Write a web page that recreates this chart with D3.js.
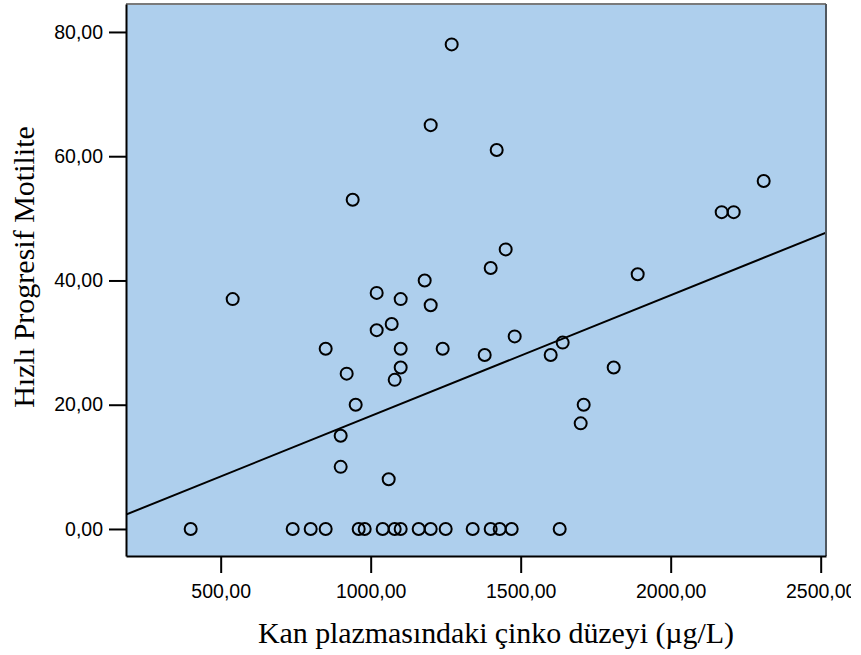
<!DOCTYPE html>
<html>
<head>
<meta charset="utf-8">
<script src="https://cdn.jsdelivr.net/npm/d3@7"></script>
<style>
  body { margin: 0; background: #fff; }
  svg { display: block; }
  .tick text { font-family: "Liberation Sans", Arial, sans-serif; font-size: 19.5px; fill: #000; }
  .title { font-family: "Liberation Serif", "Times New Roman", serif; font-size: 30px; fill: #000; }
</style>
</head>
<body>
<svg id="chart" width="861" height="655"></svg>
<script>
// ========= Data
const zinc = [400, 540, 740, 800, 850, 850, 900, 900, 920, 940, 950, 960, 980, 1020, 1020, 1040, 1060,
  1070, 1080, 1080, 1100, 1100, 1100, 1100, 1160, 1180, 1200, 1200, 1200, 1240, 1250, 1270, 1340, 1380,
  1400, 1400, 1420, 1430, 1450, 1470, 1480, 1600, 1630, 1640, 1700, 1710, 1810, 1890, 2170, 2210, 2310];
const motility = [0, 37, 0, 0, 0, 29, 15, 10, 25, 53, 20, 0, 0, 38, 32, 0, 8,
  33, 24, 0, 0, 37, 29, 26, 0, 40, 0, 65, 36, 29, 0, 78, 0, 28,
  0, 42, 61, 0, 45, 0, 31, 28, 0, 30, 17, 20, 26, 41, 51, 51, 56];

// fit line coefficients (y = a + b*x)
const fitIntercept = -1.27;
const fitSlope = 0.01945;

const xTicks = [500, 1000, 1500, 2000, 2500];
const yTicks = [0, 20, 40, 60, 80];

const xTitle = "Kan plazmasındaki çinko düzeyi (µg/L)";
const yTitle = "Hızlı Progresif Motilite";

// ========= Layout
const root = d3.select("#chart");
const m = { l: 126, r: 826, t: 4, b: 556 };

// the original picture is cut off on the right, at x = 851
root.append("clipPath").attr("id", "page")
  .append("rect").attr("x", 0).attr("y", 0).attr("width", 851).attr("height", 655);
const svg = root.append("g").attr("clip-path", "url(#page)");

const x = d3.scaleLinear().domain([184.4, 2517.7]).range([m.l, m.r]);
const y = d3.scaleLinear().domain([-4.35, 84.5]).range([m.b, m.t]);

const fmt = d3.formatLocale({ decimal: ",", thousands: "", grouping: [3], currency: ["", ""] }).format(".2f");

// plot background
svg.append("rect")
  .attr("x", m.l).attr("y", m.t)
  .attr("width", m.r - m.l).attr("height", m.b - m.t)
  .attr("fill", "#aecfed");

// regression line, clipped to plot
root.append("clipPath").attr("id", "clip")
  .append("rect")
  .attr("x", m.l).attr("y", m.t)
  .attr("width", m.r - m.l).attr("height", m.b - m.t);

const xd = x.domain();
svg.append("line")
  .attr("clip-path", "url(#clip)")
  .attr("x1", x(xd[0])).attr("y1", y(fitIntercept + fitSlope * xd[0]))
  .attr("x2", x(xd[1])).attr("y2", y(fitIntercept + fitSlope * xd[1]))
  .attr("stroke", "#000")
  .attr("stroke-width", 2);

// points
svg.append("g")
  .selectAll("circle")
  .data(zinc.map((v, i) => ({ x: v, y: motility[i] })))
  .enter()
  .append("circle")
  .attr("cx", d => x(d.x))
  .attr("cy", d => y(d.y))
  .attr("r", 6)
  .attr("fill", "none")
  .attr("stroke", "#000")
  .attr("stroke-width", 2);

// frame: top/right grey, left/bottom black
svg.append("line").attr("x1", m.l).attr("x2", m.r).attr("y1", m.t).attr("y2", m.t)
  .attr("stroke", "#7a7a7a").attr("stroke-width", 2);
svg.append("line").attr("x1", m.r).attr("x2", m.r).attr("y1", m.t).attr("y2", m.b)
  .attr("stroke", "#505860").attr("stroke-width", 2);

// axes
const xAxis = svg.append("g")
  .attr("transform", `translate(0,${m.b})`)
  .call(d3.axisBottom(x).tickValues(xTicks).tickFormat(fmt).tickSize(17).tickSizeOuter(0).tickPadding(11));
const yAxis = svg.append("g")
  .attr("transform", `translate(${m.l},0)`)
  .call(d3.axisLeft(y).tickValues(yTicks).tickFormat(fmt).tickSize(17).tickSizeOuter(0).tickPadding(6));

[xAxis, yAxis].forEach(g => {
  g.attr("font-family", null).attr("font-size", null);
  g.select(".domain").attr("stroke", "#000").attr("stroke-width", 2);
  g.selectAll(".tick line").attr("stroke", "#000").attr("stroke-width", 2);
});

// titles
svg.append("text")
  .attr("class", "title")
  .attr("x", 496).attr("y", 643)
  .attr("text-anchor", "middle")
  .attr("textLength", 476)
  .text(xTitle);

svg.append("text")
  .attr("class", "title")
  .attr("transform", "translate(34,267) rotate(-90)")
  .attr("text-anchor", "middle")
  .text(yTitle);
</script>
</body>
</html>
